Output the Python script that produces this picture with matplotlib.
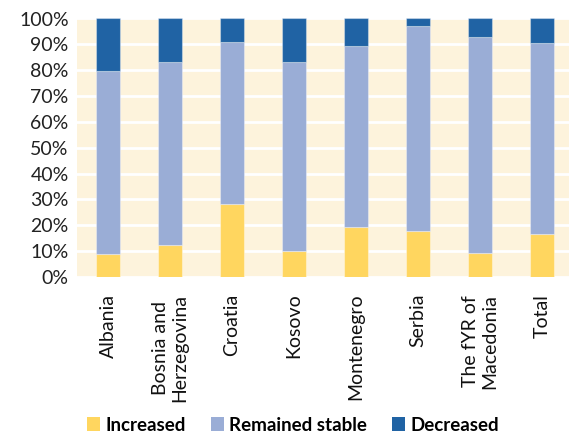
import matplotlib
matplotlib.use('Agg')
from matplotlib import pyplot as plt
from matplotlib.patches import Patch
import numpy as np

plt.rcParams['font.family'] = ['Lato', 'DejaVu Sans']

countries = ['Albania', 'Bosnia and\nHerzegovina', 'Croatia', 'Kosovo', 'Montenegro',
             'Serbia', 'The fYR of\nMacedonia', 'Total']
increased = [8.8, 12.4, 28.1, 10.1, 19.3, 17.7, 9.4, 16.8]
stable = [70.9, 70.6, 62.8, 73.1, 70.2, 79.4, 83.4, 73.6]
decreased = [100 - a - b for a, b in zip(increased, stable)]

series = ['Increased', 'Remained stable', 'Decreased']
colors = ['#FFD65F', '#9AADD6', '#2063A4']

fig = plt.figure(figsize=(5.69, 4.36), dpi=100)
ax = fig.add_axes([77 / 569, 159 / 436, 496 / 569, 258.5 / 436])
ax.set_facecolor('#FDF3DC')

x = np.arange(len(countries))
bottom = np.zeros(len(countries))
for vals, col in zip([increased, stable, decreased], colors):
    ax.bar(x, vals, width=0.4, bottom=bottom, color=col,
           edgecolor=(1, 1, 1, 0.35), linewidth=0.8, zorder=3)
    bottom += np.array(vals)

ax.set_ylim(0, 100)
ax.set_xlim(-0.5, len(countries) - 0.5)
ax.set_yticks(range(0, 101, 10))
ax.set_yticklabels([f'{v}%' for v in range(0, 101, 10)], fontsize=14, color='#222222')
ax.set_xticks(x)
ax.set_xticklabels(countries, rotation=90, fontsize=14, color='#111111', va='top',
                   ha='center', multialignment='center')
ax.tick_params(axis='x', length=0, pad=12)
ax.tick_params(axis='y', length=0, pad=6)
ax.yaxis.grid(True, color='white', linewidth=2, zorder=1)
for s in ax.spines.values():
    s.set_visible(False)

handles = [Patch(facecolor=c, edgecolor='none') for c in colors]
fig.legend(handles, series, loc='center', bbox_to_anchor=(0.515, 0.025), ncol=3,
           frameon=False, prop={'weight': 'bold', 'size': 13.5},
           handlelength=0.7, handleheight=0.7, handletextpad=0.3, columnspacing=1.3)

plt.savefig('out.png', dpi=100)
